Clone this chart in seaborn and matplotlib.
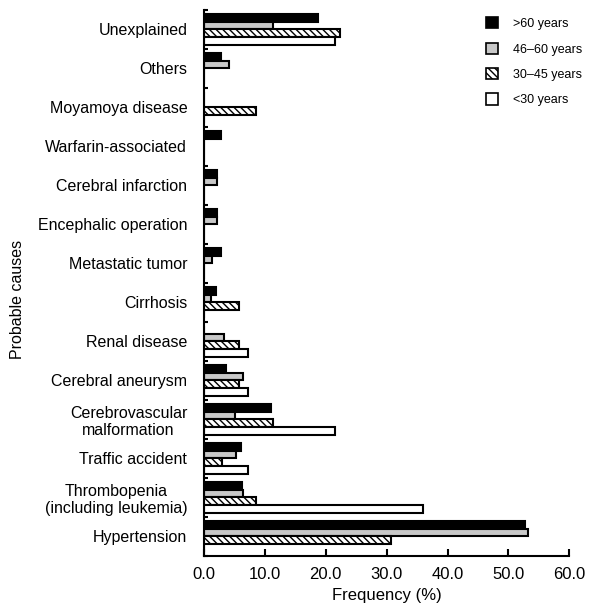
import numpy as np
import pandas as pd
import seaborn as sns
import matplotlib.pyplot as plt
from matplotlib.patches import Patch
from matplotlib.ticker import FixedLocator

# data (frequency, %)
causes = ['Unexplained', 'Others', 'Moyamoya disease', 'Warfarin-associated',
          'Cerebral infarction', 'Encephalic operation', 'Metastatic tumor',
          'Cirrhosis', 'Renal disease', 'Cerebral aneurysm',
          'Cerebrovascular\nmalformation', 'Traffic accident',
          'Thrombopenia\n(including leukemia)', 'Hypertension']
groups = ['>60 years', '46–60 years', '30–45 years', '<30 years']

over60 = [18.7, 2.8, 0.0, 2.8, 2.1, 2.1, 2.8, 2.0, 0.0, 3.6, 11.0, 6.1, 6.2, 52.8]
age46_60 = [11.3, 4.2, 0.0, 0.0, 2.2, 2.2, 1.3, 1.1, 3.3, 6.4, 5.1, 5.2, 6.4, 53.2]
age30_45 = [22.3, 0.0, 8.5, 0.0, 0.0, 0.0, 0.0, 5.8, 5.8, 5.8, 11.3, 2.9, 8.5, 30.8]
under30 = [21.5, 0.0, 0.0, 0.0, 0.0, 0.0, 0.0, 0.0, 7.2, 7.2, 21.5, 7.2, 36.0, 0.0]

colors = ['black', '#c8c8c8', 'white', 'white']
hatches = [None, None, '\\\\\\\\\\', None]

df = pd.DataFrame({
    'cause': causes * 4,
    'group': np.repeat(groups, len(causes)),
    'freq': over60 + age46_60 + age30_45 + under30,
})

sns.set_style('ticks')
plt.rcParams['font.family'] = ['Liberation Sans', 'DejaVu Sans']
plt.rcParams['hatch.linewidth'] = 1.0
for k in ['text.color', 'axes.labelcolor', 'xtick.color', 'ytick.color',
          'axes.edgecolor']:
    plt.rcParams[k] = 'black'

fig = plt.figure(figsize=(5.98, 6.14), dpi=100)
ax = fig.add_axes([0.341, 0.0945, 0.611, 0.8895])

sns.barplot(data=df, x='freq', y='cause', hue='group', order=causes,
            hue_order=groups, palette=colors, width=0.8, orient='h',
            edgecolor='black', linewidth=1.5, legend=False, ax=ax)

for cont, h in zip(ax.containers, hatches):
    if h:
        for p in cont:
            p.set_hatch(h)

ax.set_xlim(0, 60)
ax.set_ylim(len(causes) - 0.5, -0.5)
ax.set_xticks(np.arange(0, 61, 10))
ax.set_xticklabels(['%.1f' % v for v in np.arange(0, 61, 10)], fontsize=12)
ax.set_yticks(range(len(causes)))
ax.set_yticklabels(causes, fontsize=11.5, multialignment='center')
ax.yaxis.set_minor_locator(FixedLocator(np.arange(-0.5, len(causes), 1.0)))
ax.tick_params(axis='y', which='major', length=0, pad=12)
ax.tick_params(axis='y', which='minor', direction='in', length=3, width=1.5)
ax.tick_params(axis='x', direction='in', length=5, width=1.5, pad=8)

ax.set_xlabel('Frequency (%)', fontsize=12, labelpad=4)
ax.set_ylabel('Probable causes', fontsize=11.5)
ax.yaxis.set_label_coords(-0.49, 0.47)

sns.despine(ax=ax)
for s in ['left', 'bottom']:
    ax.spines[s].set_linewidth(1.5)

handles = [Patch(facecolor=c, edgecolor='black', hatch=h, linewidth=1.2)
           for c, h in zip(colors, hatches)]
fig.legend(handles, groups, loc='upper left', bbox_to_anchor=(0.802, 0.982),
           frameon=False, fontsize=9, borderpad=0, handlelength=1.0,
           handleheight=1.0, handletextpad=1.2, labelspacing=1.0)

fig.savefig('out.png', dpi=100)
